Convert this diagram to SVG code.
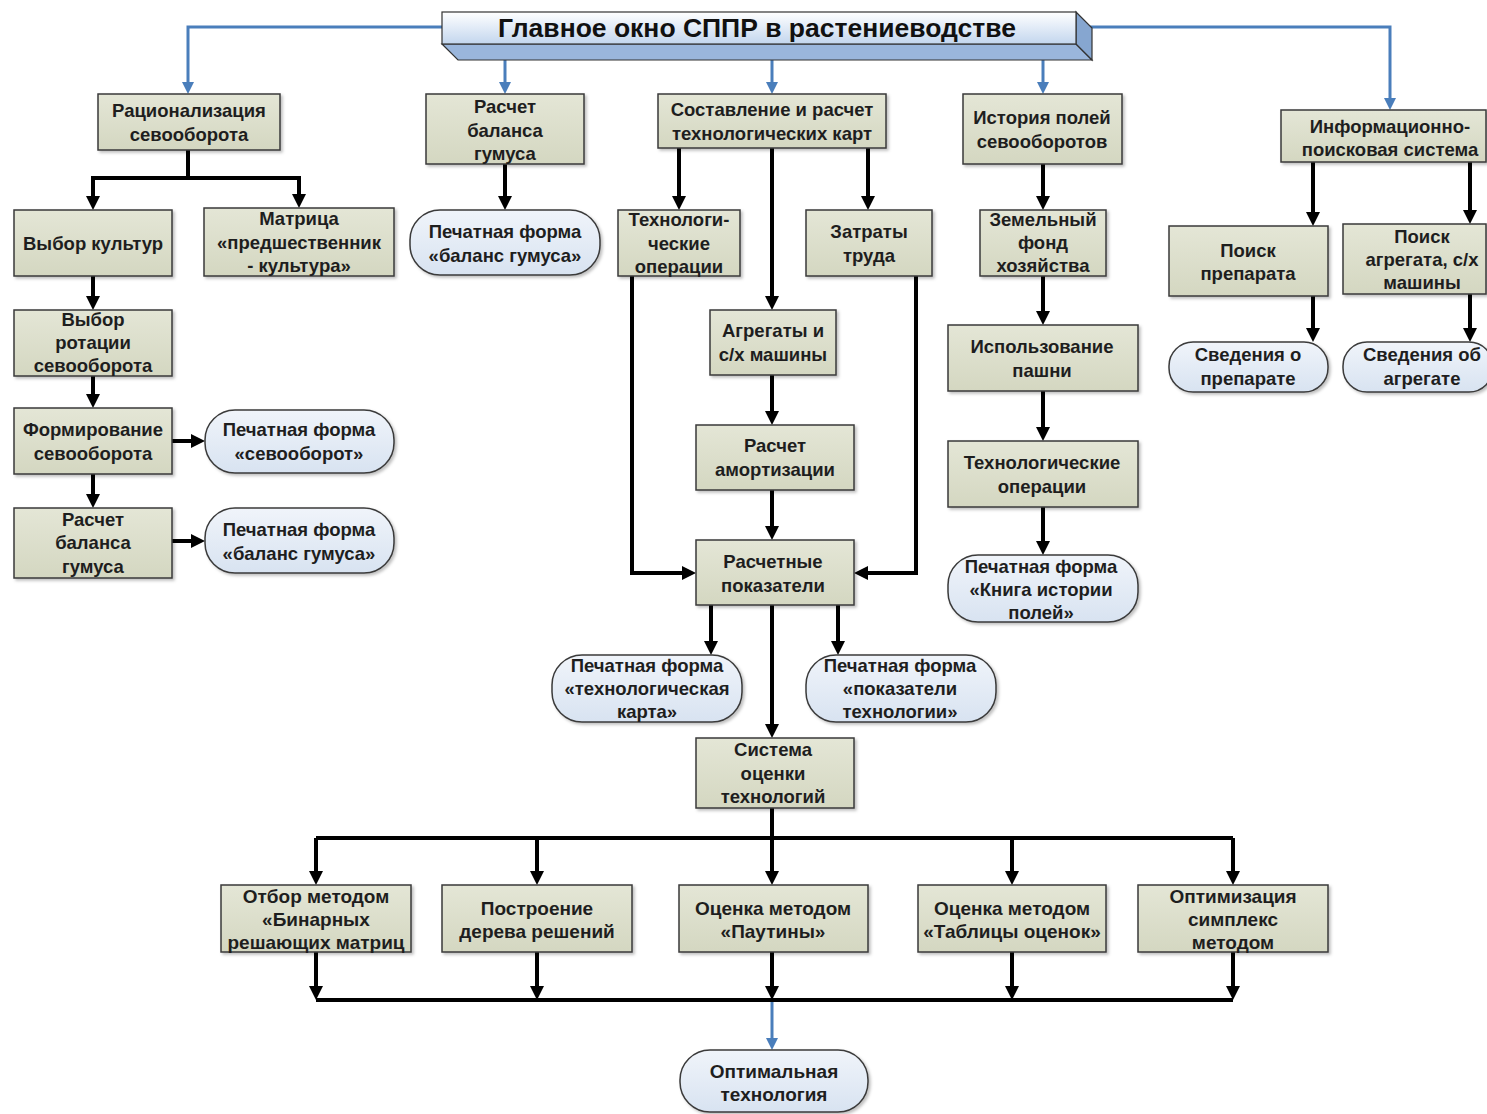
<svg xmlns="http://www.w3.org/2000/svg" width="1487" height="1114" viewBox="0 0 1487 1114">
<defs>
<linearGradient id="gBox" x1="0" y1="0" x2="0" y2="1">
<stop offset="0" stop-color="#e4e6d6"/>
<stop offset="1" stop-color="#d4d7c1"/>
</linearGradient>
<linearGradient id="gRound" x1="0" y1="0" x2="0" y2="1">
<stop offset="0" stop-color="#f0f4fa"/>
<stop offset="1" stop-color="#d8e3f1"/>
</linearGradient>
<linearGradient id="gBan" x1="0" y1="0" x2="0" y2="1">
<stop offset="0" stop-color="#ffffff"/>
<stop offset="1" stop-color="#c3d6ee"/>
</linearGradient>
<filter id="sh" x="-10%" y="-10%" width="130%" height="130%">
<feDropShadow dx="2" dy="2" stdDeviation="1.5" flood-color="#000" flood-opacity="0.25"/>
</filter>
<marker id="ab" viewBox="0 0 14 14" markerWidth="14" markerHeight="14" refX="4" refY="7" orient="auto" markerUnits="userSpaceOnUse">
<path d="M0,0 L14,7 L0,14 z" fill="#000"/>
</marker>
<marker id="au" viewBox="0 0 12 12" markerWidth="12" markerHeight="12" refX="3" refY="6" orient="auto" markerUnits="userSpaceOnUse">
<path d="M0,0 L12,6 L0,12 z" fill="#4a7ebb"/>
</marker>
</defs>
<style>
.box{fill:url(#gBox);stroke:#3a3a3a;stroke-width:1.5;filter:url(#sh)}
.rnd{fill:url(#gRound);stroke:#3a3a3a;stroke-width:1.5;filter:url(#sh)}
.t{font-family:"Liberation Sans",Arial,sans-serif;font-weight:bold;font-size:18.5px;fill:#1e1e1e;text-anchor:middle;dominant-baseline:central}
.tc{font-family:"Liberation Sans",Arial,sans-serif;font-weight:bold;font-size:19px;fill:#1e1e1e;text-anchor:middle;dominant-baseline:central}
.k{fill:none;stroke:#000;stroke-width:4}
.ka{fill:none;stroke:#000;stroke-width:4;marker-end:url(#ab)}
.bla{fill:none;stroke:#4a7ebb;stroke-width:3;marker-end:url(#au)}
</style>
<rect width="1487" height="1114" fill="#ffffff"/>

<g id="connectors">
<path class="bla" d="M442,27 H188 V85"/>
<path class="bla" d="M505,58 V85"/>
<path class="bla" d="M772,58 V85"/>
<path class="bla" d="M1043,58 V85"/>
<path class="bla" d="M1090,27 H1390 V101"/>
<path class="bla" d="M772,1000 V1041"/>

<path class="ka" d="M188,150 V178 H93 V200"/>
<path class="ka" d="M188,178 H299 V198"/>
<path class="ka" d="M93,276 V300"/>
<path class="ka" d="M93,376 V398"/>
<path class="ka" d="M93,474 V498"/>
<path class="ka" d="M172,441 H195"/>
<path class="ka" d="M172,541 H195"/>
<path class="ka" d="M505,164 V200"/>
<path class="ka" d="M679,148 V200"/>
<path class="ka" d="M868,148 V200"/>
<path class="ka" d="M772,148 V300"/>
<path class="ka" d="M772,375 V415"/>
<path class="ka" d="M772,490 V530"/>
<path class="ka" d="M632,276 V573 H686"/>
<path class="ka" d="M916,276 V573 H864"/>
<path class="ka" d="M711,605 V645"/>
<path class="ka" d="M838,605 V645"/>
<path class="ka" d="M772,605 V728"/>
<path class="k" d="M316,838 H1233"/>
<path class="ka" d="M772,808 V875"/>
<path class="ka" d="M316,838 V875"/>
<path class="ka" d="M537,838 V875"/>
<path class="ka" d="M1012,838 V875"/>
<path class="ka" d="M1233,838 V875"/>
<path class="ka" d="M316,952 V990"/>
<path class="ka" d="M537,952 V990"/>
<path class="ka" d="M772,952 V990"/>
<path class="ka" d="M1012,952 V990"/>
<path class="ka" d="M1233,952 V990"/>
<path class="k" d="M316,1000 H1233"/>
<path class="ka" d="M1043,164 V200"/>
<path class="ka" d="M1043,276 V315"/>
<path class="ka" d="M1043,391 V431"/>
<path class="ka" d="M1043,507 V545"/>
<path class="ka" d="M1313,162 V216"/>
<path class="ka" d="M1470,162 V214"/>
<path class="ka" d="M1313,296 V332"/>
<path class="ka" d="M1470,294 V332"/>
</g>

<g id="main">
<polygon points="442,44 1076,44 1092,60 458,60" fill="#9ab6dc" stroke="#333" stroke-width="1.2"/>
<polygon points="1076,12 1092,28 1092,60 1076,44" fill="#86a6d0" stroke="#333" stroke-width="1.2"/>
<rect x="442" y="12" width="634" height="32" fill="url(#gBan)" stroke="#333" stroke-width="1.2"/>
<text x="757" y="28" font-family="Liberation Sans, Arial, sans-serif" font-weight="bold" font-size="26.5" fill="#111" text-anchor="middle" dominant-baseline="central">Главное окно СППР в растениеводстве</text>
</g>

<g id="n_rac"><rect class="box" x="98" y="94" width="182" height="56"/><text class="t" x="189" y="110">Рационализация</text><text class="t" x="189" y="134">севооборота</text></g>
<g id="n_vybor"><rect class="box" x="14" y="210" width="158" height="66"/><text class="t" x="93" y="243">Выбор культур</text></g>
<g id="n_matr"><rect class="box" x="204" y="208" width="190" height="68"/><text class="t" x="299" y="218">Матрица</text><text class="t" x="299" y="242">«предшественник</text><text class="t" x="299" y="265">- культура»</text></g>
<g id="n_rot"><rect class="box" x="14" y="310" width="158" height="66"/><text class="t" x="93" y="319">Выбор</text><text class="t" x="93" y="342">ротации</text><text class="t" x="93" y="365">севооборота</text></g>
<g id="n_form"><rect class="box" x="14" y="408" width="158" height="66"/><text class="t" x="93" y="429">Формирование</text><text class="t" x="93" y="453">севооборота</text></g>
<g id="n_pf_sev"><rect class="rnd" x="205" y="410" width="189" height="63" rx="30"/><text class="t" x="299" y="429">Печатная форма</text><text class="t" x="299" y="453">«севооборот»</text></g>
<g id="n_bal1"><rect class="box" x="14" y="508" width="158" height="70"/><text class="t" x="93" y="519">Расчет</text><text class="t" x="93" y="542">баланса</text><text class="t" x="93" y="566">гумуса</text></g>
<g id="n_pf_bal1"><rect class="rnd" x="205" y="508" width="189" height="65" rx="30"/><text class="t" x="299" y="529">Печатная форма</text><text class="t" x="299" y="553">«баланс гумуса»</text></g>

<g id="n_bal2"><rect class="box" x="426" y="94" width="158" height="70"/><text class="t" x="505" y="106">Расчет</text><text class="t" x="505" y="130">баланса</text><text class="t" x="505" y="153">гумуса</text></g>
<g id="n_pf_bal2"><rect class="rnd" x="410" y="210" width="190" height="65" rx="30"/><text class="t" x="505" y="231">Печатная форма</text><text class="t" x="505" y="255">«баланс гумуса»</text></g>

<g id="n_sost"><rect class="box" x="658" y="94" width="228" height="54"/><text class="t" x="772" y="109">Составление и расчет</text><text class="t" x="772" y="133">технологических карт</text></g>
<g id="n_tops"><rect class="box" x="618" y="210" width="122" height="66"/><text class="t" x="679" y="219">Технологи-</text><text class="t" x="679" y="243">ческие</text><text class="t" x="679" y="266">операции</text></g>
<g id="n_zatr"><rect class="box" x="806" y="210" width="126" height="66"/><text class="t" x="869" y="231">Затраты</text><text class="t" x="869" y="255">труда</text></g>
<g id="n_agr"><rect class="box" x="710" y="310" width="126" height="65" /><text class="t" x="773" y="330">Агрегаты и</text><text class="t" x="773" y="354">с/х машины</text></g>
<g id="n_amort"><rect class="box" x="696" y="425" width="158" height="65"/><text class="t" x="775" y="445">Расчет</text><text class="t" x="775" y="469">амортизации</text></g>
<g id="n_rpok"><rect class="box" x="696" y="540" width="158" height="65"/><text class="t" x="773" y="561">Расчетные</text><text class="t" x="773" y="585">показатели</text></g>
<g id="n_pf_tk"><rect class="rnd" x="552" y="655" width="190" height="67" rx="30"/><text class="t" x="647" y="665">Печатная форма</text><text class="t" x="647" y="688">«технологическая</text><text class="t" x="647" y="711">карта»</text></g>
<g id="n_pf_pt"><rect class="rnd" x="806" y="655" width="190" height="67" rx="30"/><text class="t" x="900" y="665">Печатная форма</text><text class="t" x="900" y="688">«показатели</text><text class="t" x="900" y="711">технологии»</text></g>
<g id="n_sist"><rect class="box" x="696" y="738" width="158" height="70"/><text class="t" x="773" y="749">Система</text><text class="t" x="773" y="773">оценки</text><text class="t" x="773" y="796">технологий</text></g>

<g id="n_bin"><rect class="box" x="221" y="885" width="190" height="67"/><text class="tc" x="316" y="896">Отбор методом</text><text class="tc" x="316" y="919">«Бинарных</text><text class="tc" x="316" y="942">решающих матриц</text></g>
<g id="n_der"><rect class="box" x="442" y="885" width="190" height="67"/><text class="tc" x="537" y="908">Построение</text><text class="tc" x="537" y="931">дерева решений</text></g>
<g id="n_paut"><rect class="box" x="679" y="885" width="189" height="67"/><text class="tc" x="773" y="908">Оценка методом</text><text class="tc" x="773" y="931">«Паутины»</text></g>
<g id="n_tabl"><rect class="box" x="918" y="885" width="188" height="67"/><text class="tc" x="1012" y="908">Оценка методом</text><text class="tc" x="1012" y="931">«Таблицы оценок»</text></g>
<g id="n_simp"><rect class="box" x="1138" y="885" width="190" height="67"/><text class="tc" x="1233" y="896">Оптимизация</text><text class="tc" x="1233" y="919">симплекс</text><text class="tc" x="1233" y="942">методом</text></g>
<g id="n_opt"><rect class="rnd" x="680" y="1050" width="188" height="62" rx="30"/><text class="tc" x="774" y="1071">Оптимальная</text><text class="tc" x="774" y="1094">технология</text></g>

<g id="n_ist"><rect class="box" x="963" y="94" width="159" height="70"/><text class="t" x="1042" y="117">История полей</text><text class="t" x="1042" y="141">севооборотов</text></g>
<g id="n_zem"><rect class="box" x="980" y="210" width="126" height="66"/><text class="t" x="1043" y="219">Земельный</text><text class="t" x="1043" y="242">фонд</text><text class="t" x="1043" y="265">хозяйства</text></g>
<g id="n_isp"><rect class="box" x="948" y="325" width="190" height="66"/><text class="t" x="1042" y="346">Использование</text><text class="t" x="1042" y="370">пашни</text></g>
<g id="n_tops2"><rect class="box" x="948" y="441" width="190" height="66"/><text class="t" x="1042" y="462">Технологические</text><text class="t" x="1042" y="486">операции</text></g>
<g id="n_pf_kn"><rect class="rnd" x="948" y="555" width="190" height="67" rx="30"/><text class="t" x="1041" y="566">Печатная форма</text><text class="t" x="1041" y="589">«Книга истории</text><text class="t" x="1041" y="612">полей»</text></g>

<g id="n_ips"><rect class="box" x="1281" y="110" width="205" height="52"/><text class="t" x="1390" y="126">Информационно-</text><text class="t" x="1390" y="149">поисковая система</text></g>
<g id="n_poisk1"><rect class="box" x="1169" y="226" width="159" height="70"/><text class="t" x="1248" y="250">Поиск</text><text class="t" x="1248" y="273">препарата</text></g>
<g id="n_poisk2"><rect class="box" x="1343" y="224" width="143" height="70"/><text class="t" x="1422" y="236">Поиск</text><text class="t" x="1422" y="259">агрегата, с/х</text><text class="t" x="1422" y="282">машины</text></g>
<g id="n_sv1"><rect class="rnd" x="1169" y="342" width="159" height="50" rx="24"/><text class="t" x="1248" y="354">Сведения о</text><text class="t" x="1248" y="378">препарате</text></g>
<g id="n_sv2"><rect class="rnd" x="1343" y="342" width="150" height="50" rx="24"/><text class="t" x="1422" y="354">Сведения об</text><text class="t" x="1422" y="378">агрегате</text></g>
</svg>
